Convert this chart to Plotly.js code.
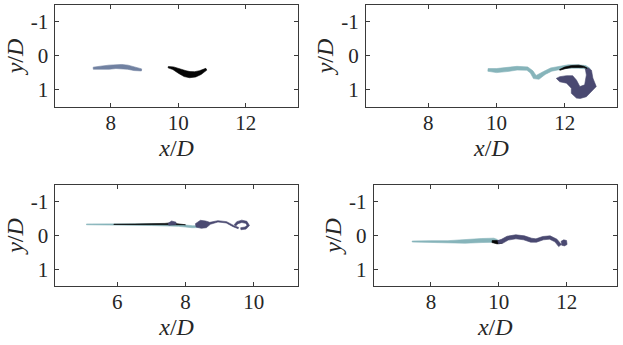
<!DOCTYPE html>
<html>
<head>
<meta charset="utf-8">
<script src="https://cdn.plot.ly/plotly-3.0.1.min.js"></script>
<style>html,body{margin:0;padding:0;background:#fff;}#chart{width:623px;height:345px;}</style>
</head>
<body>
<div id="chart"></div>
<script>
// ---- data: centre lines x, y and half-thickness w, in x/D, y/D ----
// Panel 1
const p1GreyX = [7.48, 7.7, 7.95, 8.15, 8.32, 8.5, 8.7, 8.91];
const p1GreyY = [0.36, 0.35, 0.33, 0.31, 0.31, 0.33, 0.38, 0.41];
const p1GreyW = [0.03, 0.05, 0.06, 0.06, 0.06, 0.06, 0.05, 0.03];
const p1BlackX = [9.7, 9.85, 10.04, 10.2, 10.34, 10.5, 10.65, 10.83];
const p1BlackY = [0.33, 0.36, 0.45, 0.52, 0.55, 0.54, 0.49, 0.39];
const p1BlackW = [0.02, 0.04, 0.07, 0.09, 0.09, 0.08, 0.06, 0.03];
// Panel 2
const p2TealX = [9.75, 10.0, 10.3, 10.6, 10.9, 11.03, 11.12, 11.22, 11.4, 11.6, 11.85, 12.1, 12.4, 12.6, 12.72];
const p2TealY = [0.41, 0.43, 0.40, 0.36, 0.37, 0.47, 0.62, 0.63, 0.50, 0.40, 0.35, 0.31, 0.31, 0.33, 0.40];
const p2TealW = [0.04, 0.06, 0.06, 0.055, 0.05, 0.05, 0.06, 0.06, 0.05, 0.05, 0.05, 0.05, 0.05, 0.05, 0.04];
const p2NavyOutlineX = [11.75, 11.85, 12.05, 12.23, 12.34, 12.44, 12.58, 12.63, 12.6, 12.68, 12.78, 12.82, 12.92, 12.78, 12.63, 12.45, 12.34, 12.19, 12.19, 12.05, 11.85];
const p2NavyOutlineY = [0.66, 0.61, 0.58, 0.58, 0.71, 0.90, 0.85, 0.56, 0.38, 0.35, 0.42, 0.65, 0.90, 1.05, 1.20, 1.25, 1.24, 1.10, 0.95, 0.80, 0.76];
const p2BlackX = [11.85, 12.0, 12.2, 12.4, 12.55, 12.65];
const p2BlackY = [0.41, 0.35, 0.31, 0.30, 0.32, 0.36];
const p2BlackW = [0.012, 0.025, 0.03, 0.03, 0.02, 0.01];
// Panel 3
const p3TealX = [5.1, 6.0, 7.0, 7.8, 8.2, 8.4];
const p3TealY = [-0.33, -0.33, -0.32, -0.30, -0.26, -0.26];
const p3TealW = [0.012, 0.02, 0.025, 0.03, 0.03, 0.025];
const p3BlackX = [5.9, 6.5, 7.0, 7.4, 7.6, 7.75, 8.0];
const p3BlackY = [-0.33, -0.33, -0.33, -0.34, -0.35, -0.33, -0.31];
const p3BlackW = [0.004, 0.01, 0.014, 0.018, 0.03, 0.018, 0.008];
const p3NavySmallX = [7.5, 7.6, 7.72];
const p3NavySmallY = [-0.33, -0.37, -0.36];
const p3NavySmallW = [0.03, 0.06, 0.035];
const p3NavyX = [8.3, 8.45, 8.6, 8.72, 8.95, 9.2, 9.4, 9.55];
const p3NavyY = [-0.30, -0.33, -0.33, -0.36, -0.42, -0.39, -0.28, -0.22];
const p3NavyW = [0.05, 0.12, 0.10, 0.03, 0.02, 0.02, 0.02, 0.02];
const p3HookX = [9.45, 9.52, 9.65, 9.78, 9.84, 9.76, 9.62];
const p3HookY = [-0.30, -0.38, -0.42, -0.39, -0.30, -0.22, -0.20];
const p3HookW = [0.03, 0.035, 0.035, 0.035, 0.035, 0.035, 0.03];
// Panel 4
const p4TealX = [7.45, 8.0, 8.5, 9.0, 9.5, 9.85, 9.95];
const p4TealY = [0.18, 0.18, 0.19, 0.18, 0.15, 0.14, 0.16];
const p4TealW = [0.015, 0.025, 0.035, 0.05, 0.06, 0.06, 0.04];
const p4BlackX = [9.8, 9.95, 10.1];
const p4BlackY = [0.18, 0.20, 0.19];
const p4BlackW = [0.03, 0.05, 0.04];
const p4NavyX = [9.98, 10.1, 10.26, 10.5, 10.74, 10.95, 11.1, 11.3, 11.5, 11.68, 11.8];
const p4NavyY = [0.20, 0.17, 0.08, 0.04, 0.07, 0.14, 0.15, 0.08, 0.06, 0.15, 0.30];
const p4NavyW = [0.05, 0.06, 0.06, 0.06, 0.06, 0.06, 0.05, 0.05, 0.05, 0.05, 0.05];
const p4EndX = [11.84, 11.92, 12.0];
const p4EndY = [0.23, 0.22, 0.21];
const p4EndW = [0.06, 0.09, 0.06];

const xTicks1 = [8, 10, 12];
const xTicks3 = [6, 8, 10];
const yTicks = [-1, 0, 1];
const yTickText = ['-1', '0', '1'];

const C_GREY = '#7181a1', C_BLACK = '#050505', C_TEAL = '#86b4ba', C_NAVY = '#4a4971';

// ---- build filled ribbons from centre lines ----
function ribbon(cx, cy, hw) {
  const up = {x: [], y: []}, lo = {x: [], y: []};
  const n = cx.length;
  for (let i = 0; i < n; i++) {
    const a = Math.max(0, i - 1), b = Math.min(n - 1, i + 1);
    let dx = cx[b] - cx[a], dy = cy[b] - cy[a];
    const L = Math.hypot(dx, dy) || 1; dx /= L; dy /= L;
    up.x.push(cx[i] - dy * hw[i]); up.y.push(cy[i] + dx * hw[i]);
    lo.x.push(cx[i] + dy * hw[i]); lo.y.push(cy[i] - dx * hw[i]);
  }
  return {x: up.x.concat(lo.x.reverse(), [up.x[0]]), y: up.y.concat(lo.y.reverse(), [up.y[0]])};
}
function shape(pts, color, ax) {
  return {type: 'scatter', mode: 'lines', x: pts.x, y: pts.y, fill: 'toself', fillcolor: color,
    line: {color: color, width: 0.6}, xaxis: 'x' + ax, yaxis: 'y' + ax, hoverinfo: 'skip', showlegend: false};
}
const data = [
  shape(ribbon(p1GreyX, p1GreyY, p1GreyW), C_GREY, ''),
  shape(ribbon(p1BlackX, p1BlackY, p1BlackW), C_BLACK, ''),
  shape(ribbon(p2TealX, p2TealY, p2TealW), C_TEAL, '2'),
  shape({x: p2NavyOutlineX.concat([p2NavyOutlineX[0]]), y: p2NavyOutlineY.concat([p2NavyOutlineY[0]])}, C_NAVY, '2'),
  shape(ribbon(p2BlackX, p2BlackY, p2BlackW), C_BLACK, '2'),
  shape(ribbon(p3TealX, p3TealY, p3TealW), C_TEAL, '3'),
  shape(ribbon(p3BlackX, p3BlackY, p3BlackW), C_BLACK, '3'),
  shape(ribbon(p3NavySmallX, p3NavySmallY, p3NavySmallW), C_NAVY, '3'),
  shape(ribbon(p3NavyX, p3NavyY, p3NavyW), C_NAVY, '3'),
  shape(ribbon(p3HookX, p3HookY, p3HookW), C_NAVY, '3'),
  shape(ribbon(p4TealX, p4TealY, p4TealW), C_TEAL, '4'),
  shape(ribbon(p4BlackX, p4BlackY, p4BlackW), C_BLACK, '4'),
  shape(ribbon(p4NavyX, p4NavyY, p4NavyW), C_NAVY, '4'),
  shape(ribbon(p4EndX, p4EndY, p4EndW), C_NAVY, '4')
];

const FONT = 'Liberation Serif';
function xax(domain, range, ticks, anchor) {
  return {domain: domain, range: range, anchor: anchor, tickvals: ticks, ticktext: ticks.map(String),
    showline: true, linecolor: '#3a3a3a', linewidth: 1, mirror: 'ticks', ticks: 'inside', ticklen: 4,
    tickcolor: '#3a3a3a', showgrid: false, zeroline: false, ticklabelstandoff: -3,
    tickfont: {family: FONT, size: 21, color: '#262626'},
    title: {text: '<i>x</i>/<i>D</i>', font: {family: FONT, size: 24, color: '#262626'}, standoff: 0}};
}
function yax(domain, anchor) {
  return {domain: domain, range: [1.5, -1.5], anchor: anchor, tickvals: yTicks, ticktext: yTickText,
    showline: true, linecolor: '#3a3a3a', linewidth: 1, mirror: 'ticks', ticks: 'inside', ticklen: 4,
    tickcolor: '#3a3a3a', showgrid: false, zeroline: false, ticklabelstandoff: 2,
    tickfont: {family: FONT, size: 21, color: '#262626'},
    title: {text: '<i>y</i>/<i>D</i>', font: {family: FONT, size: 24, color: '#262626'}, standoff: 0}};
}
const topY = [0.690, 0.9855], botY = [0.171, 0.464];
const layout = {
  width: 623, height: 345, margin: {l: 0, r: 0, t: 0, b: 0}, paper_bgcolor: '#fff', plot_bgcolor: '#fff',
  showlegend: false, font: {family: FONT},
  xaxis: xax([0.089, 0.478], [6.36, 13.54], xTicks1, 'y'),
  yaxis: yax(topY, 'x'),
  xaxis2: xax([0.5875, 0.990], [6.18, 13.52], xTicks1, 'y2'),
  yaxis2: yax(topY, 'x2'),
  xaxis3: xax([0.089, 0.478], [4.19, 11.29], xTicks3, 'y3'),
  yaxis3: yax(botY, 'x3'),
  xaxis4: xax([0.600, 0.990], [6.32, 13.47], xTicks1, 'y4'),
  yaxis4: yax(botY, 'x4')
};
Plotly.newPlot('chart', data, layout, {staticPlot: true, displayModeBar: false});
</script>
</body>
</html>
